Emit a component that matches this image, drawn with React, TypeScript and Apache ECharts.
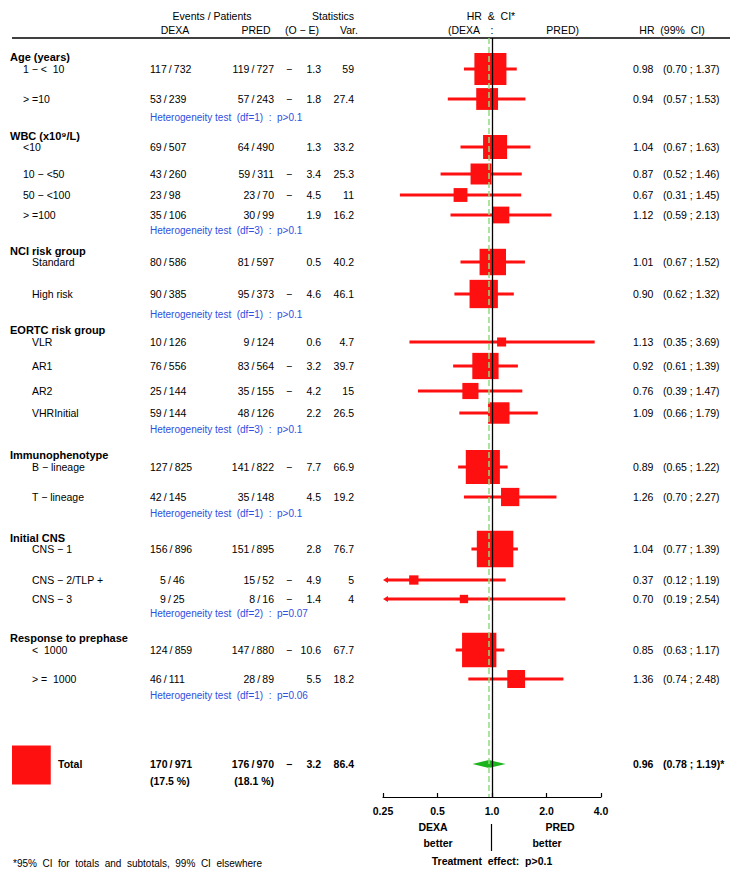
import React, { useEffect, useRef } from "react";
import * as echarts from "echarts";

const FONT = "'Liberation Sans', Arial, Helvetica, sans-serif";
const RED = "#ff1010";
const GREEN = "#1cb31c";
const LIGHT_GREEN = "#8fdc7f";
const BLUE = "#2f4fe0";
const TS = "\u2009"; // thin space around the slash

// ---------- data ----------
const groupLabels = [
  "Age (years)",
  "WBC (x10⁹/L)",
  "NCI risk group",
  "EORTC risk group",
  "Immunophenotype",
  "Initial CNS",
  "Response to prephase",
];
const heterogeneity = [
  "Heterogeneity test  (df=1)  :  p>0.1",
  "Heterogeneity test  (df=3)  :  p>0.1",
  "Heterogeneity test  (df=1)  :  p>0.1",
  "Heterogeneity test  (df=3)  :  p>0.1",
  "Heterogeneity test  (df=1)  :  p>0.1",
  "Heterogeneity test  (df=2)  :  p=0.07",
  "Heterogeneity test  (df=1)  :  p=0.06",
];
const subgroupLabels = [
  "1 − <  10", "> =10",
  "<10", "10 − <50", "50 − <100", "> =100",
  "Standard", "High risk",
  "VLR", "AR1", "AR2", "VHRInitial",
  "B − lineage", "T − lineage",
  "CNS − 1", "CNS − 2/TLP +", "CNS − 3",
  "<  1000", "> =  1000",
];
const subgroupGroup = [0, 0, 1, 1, 1, 1, 2, 2, 3, 3, 3, 3, 4, 4, 5, 5, 5, 6, 6];
const dexaEvents = [117, 53, 69, 43, 23, 35, 80, 90, 10, 76, 25, 59, 127, 42, 156, 5, 9, 124, 46];
const dexaPatients = [732, 239, 507, 260, 98, 106, 586, 385, 126, 556, 144, 144, 825, 145, 896, 46, 25, 859, 111];
const predEvents = [119, 57, 64, 59, 23, 30, 81, 95, 9, 83, 35, 48, 141, 35, 151, 15, 8, 147, 28];
const predPatients = [727, 243, 490, 311, 70, 99, 597, 373, 124, 564, 155, 126, 822, 148, 895, 52, 16, 880, 89];
const oMinusE = [-1.3, -1.8, 1.3, -3.4, -4.5, 1.9, 0.5, -4.6, 0.6, -3.2, -4.2, 2.2, -7.7, 4.5, 2.8, -4.9, -1.4, -10.6, 5.5];
const variance = [59, 27.4, 33.2, 25.3, 11, 16.2, 40.2, 46.1, 4.7, 39.7, 15, 26.5, 66.9, 19.2, 76.7, 5, 4, 67.7, 18.2];
const hazardRatio = [0.98, 0.94, 1.04, 0.87, 0.67, 1.12, 1.01, 0.9, 1.13, 0.92, 0.76, 1.09, 0.89, 1.26, 1.04, 0.37, 0.7, 0.85, 1.36];
const ciLow = [0.7, 0.57, 0.67, 0.52, 0.31, 0.59, 0.67, 0.62, 0.35, 0.61, 0.39, 0.66, 0.65, 0.7, 0.77, 0.12, 0.19, 0.63, 0.74];
const ciHigh = [1.37, 1.53, 1.63, 1.46, 1.45, 2.13, 1.52, 1.32, 3.69, 1.39, 1.47, 1.79, 1.22, 2.27, 1.39, 1.19, 2.54, 1.17, 2.48];

const totalDexa = [170, 971];
const totalPred = [176, 970];
const totalDexaPct = "(17.5 %)";
const totalPredPct = "(18.1 %)";
const totalOE = -3.2;
const totalVar = 86.4;
const totalHR = 0.96;
const totalLow = 0.78;
const totalHigh = 1.19;

const axisTicks = [0.25, 0.5, 1, 2, 4];
const axisTickLabels = ["0.25", "0.5", "1.0", "2.0", "4.0"];

// ---------- layout (row positions in page pixels, column x positions) ----------
const GROUP_Y = [57, 136, 251, 330, 455, 538, 638];
const SUB_Y = [69, 99, 147, 174, 195, 215, 262, 294, 342, 366, 391, 413, 467, 497, 549, 580, 599, 650, 679];
const HET_Y = [117, 230, 314, 429, 513, 613, 695];
const TOTAL_Y = 764;
const TOTAL_PCT_Y = 781;
const GROUP_INDENT = [23, 23, 32, 32, 32, 32, 32];
const X_GROUP = 10;
const X_DEXA = 150;
const X_PRED = 274;
const X_MINUS = 286;
const X_OE = 321;
const X_VAR = 354;
const X_HR = 633;
const X_CI = 663;
const BOX_K = 4.17;
const FS = 10.5;

function txt(x: number, y: number, text: string, o: any = {}) {
  const align = o.align || "left";
  return {
    type: "text",
    x,
    y,
    silent: true,
    style: {
      text,
      fill: o.color || "#000",
      fontSize: o.size || FS,
      fontFamily: FONT,
      fontWeight: o.bold ? "bold" : "normal",
      align,
      verticalAlign: "middle",
      textAlign: align,
      textVerticalAlign: "middle",
    },
  };
}

function statTexts(y: number, oe: number, v: number, bold = false) {
  const out: any[] = [];
  if (oe < 0) out.push(txt(X_MINUS, y, "−", { bold }));
  out.push(txt(X_OE, y, String(Math.abs(oe)), { align: "right", bold }));
  out.push(txt(X_VAR, y, String(v), { align: "right", bold }));
  return out;
}

const frac = (a: number, b: number) => `${a}${TS}/${TS}${b}`;

export default function App() {
  const ref = useRef<HTMLDivElement>(null);

  useEffect(() => {
    if (!ref.current) return;
    const chart = echarts.init(ref.current, null, { renderer: "svg" });
    const xMin = axisTicks[0];
    const xMax = axisTicks[axisTicks.length - 1];

    const subData = hazardRatio.map((h, i) => [h, SUB_Y[i], ciLow[i], ciHigh[i], variance[i]]);

    const option: any = {
      animation: false,
      backgroundColor: "#fff",
      grid: { left: 383, right: 131, top: 38, bottom: 78, containLabel: false },
      xAxis: {
        type: "log",
        logBase: 2,
        min: xMin,
        max: xMax,
        axisLine: { show: true, lineStyle: { color: "#000", width: 1.2 } },
        axisTick: { show: true, inside: true, length: 4, lineStyle: { color: "#000", width: 1.2 } },
        splitLine: { show: false },
        minorTick: { show: false },
        axisLabel: {
          color: "#000",
          fontFamily: FONT,
          fontWeight: "bold",
          fontSize: FS,
          margin: 8,
          formatter: (v: number) => {
            const idx = axisTicks.findIndex((t) => Math.abs(t - v) < 1e-6);
            return idx >= 0 ? axisTickLabels[idx] : "";
          },
        },
      },
      yAxis: { type: "value", inverse: true, min: 38, max: 797, show: false },
      graphic: [
        { type: "line", shape: { x1: 12, y1: 38, x2: 730, y2: 38 }, style: { stroke: "#000", lineWidth: 1.3 } },
        txt(212, 16, "Events / Patients", { align: "center" }),
        txt(175, 30, "DEXA", { align: "center" }),
        txt(256, 30, "PRED", { align: "center" }),
        txt(333, 16, "Statistics", { align: "center" }),
        txt(302, 30, "(O − E)", { align: "center" }),
        txt(349, 30, "Var.", { align: "center" }),
        txt(491, 16, "HR  &  CI*", { align: "center" }),
        txt(448, 30, "(DEXA", {}),
        txt(492, 30, ":", { align: "center" }),
        txt(579, 30, "PRED)", { align: "right" }),
        txt(672, 30, "HR  (99%  CI)", { align: "center" }),
        txt(433, 827, "DEXA", { align: "center", bold: true }),
        txt(560, 827, "PRED", { align: "center", bold: true }),
        txt(438, 843, "better", { align: "center", bold: true }),
        txt(547, 843, "better", { align: "center", bold: true }),
        { type: "line", shape: { x1: 491.5, y1: 824, x2: 491.5, y2: 851 }, style: { stroke: "#000", lineWidth: 1.2 } },
        txt(492, 861, "Treatment  effect:  p>0.1", { align: "center", bold: true }),
        txt(13, 863, "*95%  CI  for  totals  and  subtotals,  99%  CI  elsewhere", { size: 10 }),
      ],
      series: [
        {
          type: "custom",
          name: "groups",
          clip: false,
          silent: true,
          data: GROUP_Y.map((y) => [1, y]),
          renderItem: (params: any, api: any) => {
            const y = api.coord([1, api.value(1)])[1];
            return txt(X_GROUP, y, groupLabels[params.dataIndex], { bold: true, size: 11 });
          },
        },
        {
          type: "custom",
          name: "heterogeneity",
          clip: false,
          silent: true,
          data: HET_Y.map((y) => [1, y]),
          renderItem: (params: any, api: any) => {
            const y = api.coord([1, api.value(1)])[1];
            return txt(X_DEXA, y, heterogeneity[params.dataIndex], { color: BLUE, size: 10 });
          },
        },
        {
          type: "custom",
          name: "subgroups",
          clip: false,
          silent: true,
          data: subData,
          renderItem: (params: any, api: any) => {
            const i = params.dataIndex;
            const hr = api.value(0);
            const yv = api.value(1);
            const lo = api.value(2);
            const hi = api.value(3);
            const vr = api.value(4);
            const [cx, cy] = api.coord([hr, yv]);
            const loC = Math.max(lo, xMin);
            const hiC = Math.min(hi, xMax);
            const xl = api.coord([loC, yv])[0];
            const xh = api.coord([hiC, yv])[0];
            const side = BOX_K * Math.sqrt(vr);
            const clippedLow = lo < xMin;
            const children: any[] = [
              {
                type: "line",
                shape: { x1: clippedLow ? xl + 3 : xl, y1: cy, x2: xh, y2: cy },
                style: { stroke: RED, lineWidth: 3 },
              },
            ];
            if (clippedLow) {
              children.push({
                type: "polygon",
                shape: { points: [[xl, cy], [xl + 5, cy - 3], [xl + 5, cy + 3]] },
                style: { fill: RED },
              });
            }
            children.push({
              type: "rect",
              shape: { x: cx - side / 2, y: cy - side / 2, width: side, height: side },
              style: { fill: RED },
            });
            const g = subgroupGroup[i];
            const de = dexaEvents[i];
            children.push(txt(GROUP_INDENT[g], cy, subgroupLabels[i]));
            children.push(txt(X_DEXA + (de < 10 ? 10 : 0), cy, frac(de, dexaPatients[i])));
            children.push(txt(X_PRED, cy, frac(predEvents[i], predPatients[i]), { align: "right" }));
            children.push(...statTexts(cy, oMinusE[i], variance[i]));
            children.push(txt(X_HR, cy, hazardRatio[i].toFixed(2)));
            children.push(txt(X_CI, cy, `(${ciLow[i].toFixed(2)} ; ${ciHigh[i].toFixed(2)})`));
            return { type: "group", children };
          },
        },
        {
          type: "custom",
          name: "total",
          clip: false,
          silent: true,
          data: [[totalHR, TOTAL_Y, totalLow, totalHigh, totalVar]],
          renderItem: (params: any, api: any) => {
            const yv = api.value(1);
            const [cx, cy] = api.coord([api.value(0), yv]);
            const xl = api.coord([api.value(2), yv])[0];
            const xh = api.coord([api.value(3), yv])[0];
            const side = BOX_K * Math.sqrt(api.value(4));
            const pctY = api.coord([1, TOTAL_PCT_Y])[1];
            const children: any[] = [
              {
                type: "polygon",
                shape: { points: [[xl, cy], [cx, cy - 4], [xh, cy], [cx, cy + 4]] },
                style: { fill: GREEN },
              },
              {
                type: "rect",
                shape: { x: 12, y: cy + 1 - side / 2, width: side, height: side },
                style: { fill: RED },
              },
              txt(58, cy, "Total", { bold: true }),
              txt(X_DEXA, cy, frac(totalDexa[0], totalDexa[1]), { bold: true }),
              txt(X_DEXA, pctY, totalDexaPct, { bold: true }),
              txt(X_PRED, cy, frac(totalPred[0], totalPred[1]), { bold: true, align: "right" }),
              txt(X_PRED, pctY, totalPredPct, { bold: true, align: "right" }),
              ...statTexts(cy, totalOE, totalVar, true),
              txt(X_HR, cy, totalHR.toFixed(2), { bold: true }),
              txt(X_CI, cy, `(${totalLow.toFixed(2)} ; ${totalHigh.toFixed(2)})*`, { bold: true }),
            ];
            return { type: "group", children };
          },
        },
        {
          type: "line",
          name: "refs",
          data: [],
          silent: true,
          markLine: {
            silent: true,
            symbol: "none",
            label: { show: false },
            data: [
              { xAxis: totalHR, lineStyle: { color: LIGHT_GREEN, type: [6, 3], width: 1.5 } },
              { xAxis: 1, lineStyle: { color: "#000", type: "solid", width: 1.3 } },
            ],
          },
        },
      ],
    };
    chart.setOption(option);
    return () => chart.dispose();
  }, []);

  return (
    <div
      ref={ref}
      style={{ position: "absolute", left: 0, top: 0, width: 732, height: 875, background: "#fff" }}
    />
  );
}
